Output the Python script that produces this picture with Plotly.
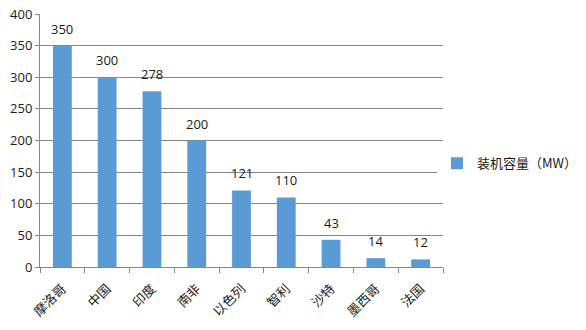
import plotly.graph_objects as go

categories = ["摩洛哥", "中国", "印度", "南非", "以色列", "智利", "沙特", "墨西哥", "法国"]
values = [350, 300, 278, 200, 121, 110, 43, 14, 12]
series_name = "装机容量（MW）"
y_ticks = [0, 50, 100, 150, 200, 250, 300, 350, 400]

font_cjk = "Noto Sans CJK SC, Noto Sans, sans-serif"
font_num = "Open Sans, Liberation Sans, sans-serif"

fig = go.Figure()
fig.add_trace(go.Bar(
    x=categories, y=values, name=series_name,
    marker=dict(color="#5B9BD5", line=dict(width=0)),
))
for c, v in zip(categories, values):
    fig.add_annotation(x=c, y=v, text=str(v), showarrow=False,
                       yanchor="bottom", yshift=6,
                       font=dict(family=font_num, size=13, color="#1a1a1a"))
fig.update_layout(
    width=586, height=330,
    margin=dict(l=40, r=143, t=14, b=63, autoexpand=False),
    paper_bgcolor="white", plot_bgcolor="white",
    bargap=0.58,
    showlegend=True,
    legend=dict(x=0.985, y=0.41, xanchor="left", yanchor="middle",
                font=dict(family=font_cjk, size=13, color="#1a1a1a"),
                itemwidth=30),
    xaxis=dict(
        tickangle=-45, tickfont=dict(family=font_cjk, size=13, color="#1a1a1a"),
        showline=True, linecolor="#868686", linewidth=1,
        ticks="outside", tickson="boundaries", ticklen=5, tickcolor="#868686",
        ticklabelstandoff=8,
        showgrid=False,
    ),
    yaxis=dict(
        range=[0, 400], tickvals=y_ticks,
        tickfont=dict(family=font_num, size=13, color="#1a1a1a"),
        showline=True, linecolor="#868686", linewidth=1,
        ticks="outside", ticklen=4, tickcolor="#868686",
        showgrid=True, gridcolor="#868686", gridwidth=1,
        zeroline=False,
    ),
)
fig.write_html("out.html")
